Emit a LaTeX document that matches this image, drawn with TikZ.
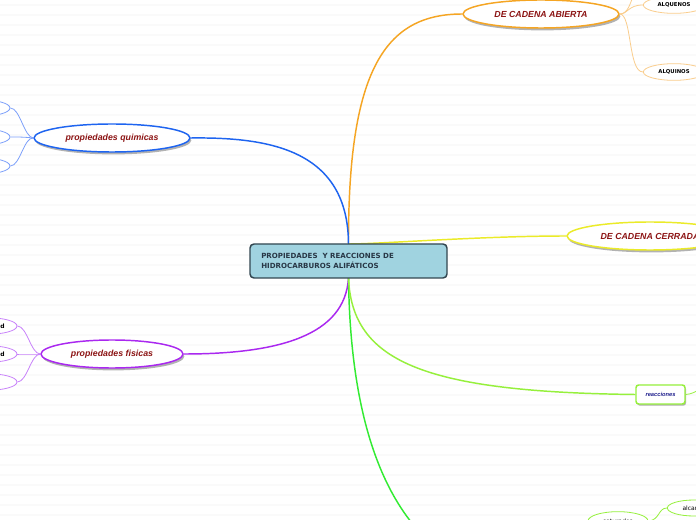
\documentclass[tikz,border=0pt]{standalone}
\usepackage{fontspec}
\setmainfont{Liberation Sans}
\newfontfamily\dvs{DejaVu Sans}
\usetikzlibrary{shapes.geometric,shadows}
\definecolor{orangeC}{RGB}{245,165,35}
\definecolor{lorangeC}{RGB}{250,205,140}
\definecolor{blueC}{RGB}{30,100,240}
\definecolor{lblueC}{RGB}{125,160,250}
\definecolor{purpleC}{RGB}{170,40,240}
\definecolor{lpurpleC}{RGB}{200,130,250}
\definecolor{yellowC}{RGB}{235,235,40}
\definecolor{greenC}{RGB}{50,235,50}
\definecolor{lgreenC}{RGB}{150,240,60}
\definecolor{darkredC}{RGB}{140,20,20}
\definecolor{boxfill}{RGB}{160,211,224}
\definecolor{boxline}{RGB}{50,70,80}
\definecolor{boxtext}{RGB}{40,55,70}
\definecolor{stripe}{RGB}{250,250,250}
\definecolor{navyC}{RGB}{30,30,140}
\tikzset{
  mainnode/.style={draw=boxline, line width=1.1pt, fill=boxfill, rounded corners=3pt,
    minimum width=147.75pt, minimum height=25.5pt, inner sep=0pt},
  topic/.style={ellipse, fill=white, line width=1.1pt, inner sep=0pt,
    minimum height=21pt, text=darkredC, font=\bfseries\itshape\fontsize{6.6}{7}\selectfont,
    drop shadow={shadow xshift=1pt, shadow yshift=-1.8pt, opacity=.3, fill=black}},
  sub/.style={ellipse, fill=white, line width=.6pt, inner sep=0pt,
    minimum width=46pt, minimum height=12.5pt, font=\dvs\bfseries\fontsize{4}{5}\selectfont},
  mainline/.style={line width=1.1pt},
  subline/.style={line width=.6pt},
}
\begin{document}
\begin{tikzpicture}[x=0.75pt,y=-0.75pt]
\useasboundingbox (0,0) rectangle (696,520);
\clip (0,0) rectangle (696,520);
\fill[white] (0,0) rectangle (696,520);
\foreach \yy in {5,15,...,515} \fill[stripe] (0,\yy-1.2) rectangle (696,\yy+1.2);

% nodes
\node[topic, draw=orangeC, minimum width=117pt] (abierta) at (541,14) {DE CADENA ABIERTA};
\node[topic, draw=yellowC, minimum width=124.5pt] (cerrada) at (650,236) {DE CADENA CERRADA};
\node[topic, draw=blueC, minimum width=117pt] (quimicas) at (112,138) {propiedades quimicas};
\node[topic, draw=purpleC, minimum width=106.5pt] (fisicas) at (112,354) {propiedades fisicas};

\node[sub, draw=lorangeC] (alquenos) at (674,5) {ALQUENOS};
\node[sub, draw=lorangeC] (alquinos) at (674,72) {ALQUINOS};

\node[sub, draw=lblueC, minimum width=45pt] (q1) at (-20,108) {};
\node[sub, draw=lblueC, minimum width=45pt] (q2) at (-20,137) {};
\node[sub, draw=lblueC, minimum width=45pt] (q3) at (-20,166) {};

\node[sub, draw=lpurpleC, minimum width=45pt] (f1) at (-13,326) {};
\node[sub, draw=lpurpleC, minimum width=45pt] (f2) at (-13,354) {};
\node[sub, draw=lpurpleC, minimum width=45pt] (f3) at (-13,382) {};
\node[font=\dvs\bfseries\fontsize{4.5}{5}\selectfont, anchor=east, inner sep=0pt] (f1t) at (5,326) {d};
\node[font=\dvs\bfseries\fontsize{4.5}{5}\selectfont, anchor=east, inner sep=0pt] (f2t) at (5,354) {d};

\node[draw=lgreenC, line width=1.1pt, fill=white, rounded corners=2pt, minimum width=36.75pt,
  minimum height=14.25pt, inner sep=0pt, text=navyC, font=\bfseries\itshape\fontsize{4.3}{5}\selectfont,
  drop shadow={shadow xshift=.8pt, shadow yshift=-1.2pt, opacity=.3, fill=black}] (reacciones) at (660.5,394.5) {reacciones};

\node[sub, draw=lgreenC, minimum width=45pt, minimum height=14pt, font=\dvs\fontsize{4.5}{5}\selectfont] (saturados) at (618,521) {saturados};
\node[sub, draw=lgreenC, minimum width=40pt, minimum height=12pt, font=\dvs\fontsize{4.5}{5}\selectfont] (alcanos) at (694,508) {alcanos};

\coordinate (uptop) at (633,-3);
\coordinate (downb) at (416,528);
\coordinate (rightr) at (702,388);

% main box position (for connectors)
\coordinate (mn) at (348.5,244);
\coordinate (ms) at (348.5,278);

% connectors
\draw[mainline, orangeC] (mn) .. controls (348,70) and (385,14) .. (abierta.west);
\draw[mainline, yellowC] (mn) .. controls (380,244) and (480,236) .. (cerrada.west);
\draw[mainline, blueC] (mn) .. controls (348,150) and (270,137) .. (quimicas.east);
\draw[mainline, purpleC] (ms) .. controls (345,335) and (280,354) .. (fisicas.east);
\draw[mainline, greenC] (ms) .. controls (350,400) and (375,480) .. (downb);
\draw[mainline, lgreenC] (ms) .. controls (352,360) and (420,392) .. (reacciones.west);
\draw[subline, lgreenC] (reacciones.east) .. controls (692,394) and (695,392) .. (rightr);

\draw[subline, lorangeC] (abierta.east) .. controls (628,14) and (628,5) .. (alquenos.west);
\draw[subline, lorangeC] (abierta.east) .. controls (628,14) and (630,3) .. (uptop);
\draw[subline, lorangeC] (abierta.east) .. controls (632,14) and (628,72) .. (alquinos.west);

\foreach \n/\yy in {q1/108,q2/137,q3/166}
  \draw[subline, lblueC] (quimicas.west) .. controls (24,137) and (20,\yy) .. (\n.east);
\foreach \n/\yy in {f1/326,f2/354,f3/382}
  \draw[subline, lpurpleC] (fisicas.west) .. controls (31,354) and (27,\yy) .. (\n.east);

\draw[subline, lgreenC] (saturados.east) .. controls (660,520) and (658,508) .. (alcanos.west);

% main node on top
\node[mainnode] (main) at (348.5,261) {};
\node[anchor=west, align=left, text=boxtext, inner sep=0pt,
  font=\dvs\bfseries\fontsize{5.3}{7.5}\selectfont] (maintext) at (261,261)
  {PROPIEDADES\ \ Y REACCIONES DE\\HIDROCARBUROS ALIFÁTICOS};
\end{tikzpicture}
\end{document}
